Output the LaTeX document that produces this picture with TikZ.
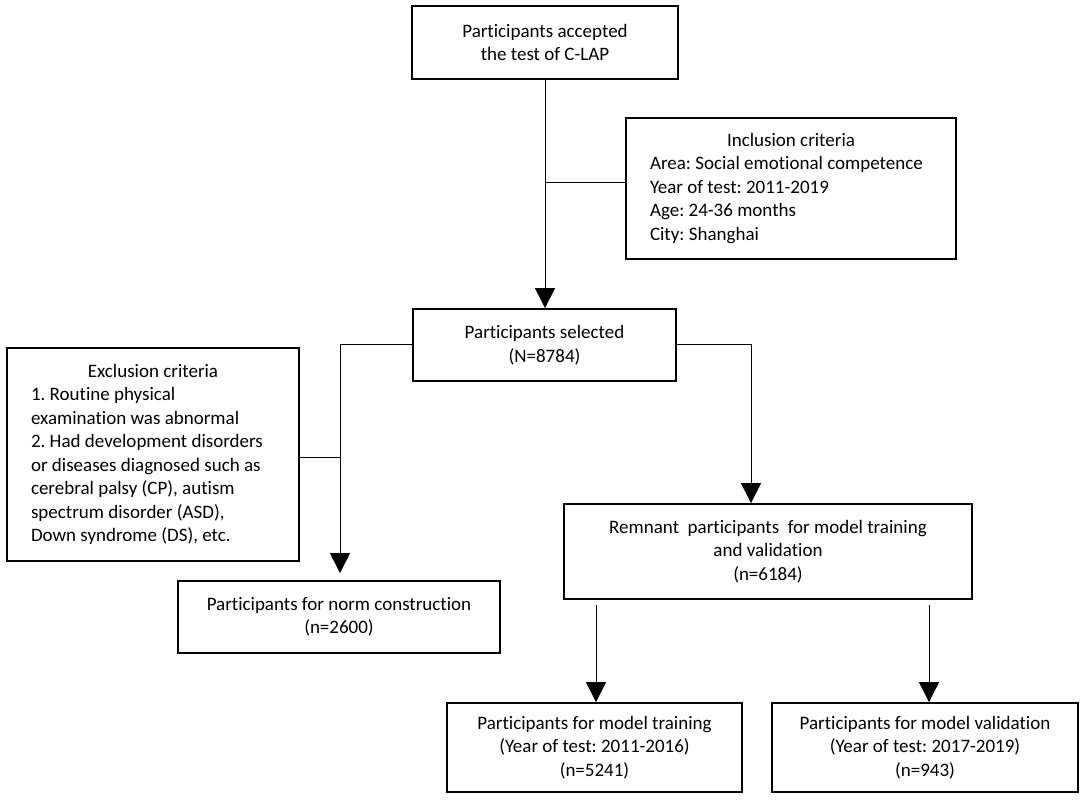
\documentclass[tikz,border=0pt]{standalone}
\usepackage{fontspec}
\setmainfont{Carlito}[Ligatures=NoCommon]
\usetikzlibrary{arrows.meta}
\newcommand\myfs{\fontsize{19}{23.5}\selectfont\frenchspacing}
\begin{document}
\begin{tikzpicture}[x=1pt,y=-1pt,
  box/.style={draw, line width=1.8pt, align=center, inner sep=0pt, font=\myfs},
  ln/.style={line width=1pt},
  arr/.style={ln, -{Triangle[width=20pt,length=20pt]}}]
\useasboundingbox[fill=white] (0,0) rectangle (1084,806);
\node[box, minimum width=266pt, minimum height=73pt] (b1) at (545,42.5) {Participants accepted\\the test of C-LAP};
\node[box, inner xsep=24pt, minimum height=141pt, align=left] (incl) at (791,188.5)
  {\makebox[282pt][c]{Inclusion criteria}\\Area: Social emotional competence\\Year of test: 2011-2019\\Age: 24-36 months\\City: Shanghai};
\node[box, minimum width=263pt, minimum height=72pt] (sel) at (544.5,345) {Participants selected\\(N=8784)};
\node[box, inner xsep=24pt, minimum height=213pt, align=left] (excl) at (153,454.5)
  {\makebox[244pt][c]{Exclusion criteria}\\1. Routine physical\\examination was abnormal\\2. Had development disorders\\or diseases diagnosed such as\\cerebral palsy (CP), autism\\spectrum disorder (ASD),\\Down syndrome (DS), etc.};
\node[box, minimum width=322pt, minimum height=72pt] (norm) at (339,617) {Participants for norm construction\\(n=2600)};
\node[box, minimum width=408pt, minimum height=95pt] (rem) at (768,551.5) {Remnant\ \ participants\ \ for model training\\and validation\\(n=6184)};
\node[box, minimum width=295pt, minimum height=89pt] (train) at (594.5,747.5) {Participants for model training\\(Year of test: 2011-2016)\\(n=5241)};
\node[box, minimum width=306pt, minimum height=89pt] (valid) at (925,747.5) {Participants for model validation\\(Year of test: 2017-2019)\\(n=943)};
\coordinate (c1) at (545,182);
\coordinate (c2) at (340,344);
\coordinate (c3) at (751,344);
\coordinate (c4) at (596,0);
\coordinate (c5) at (929,0);
\draw[arr] (b1.south) -- (b1.south |- sel.north);
\draw[ln] (c1) -- (c1 -| incl.west);
\draw[arr, shorten >=7pt] (sel.west |- c2) -- (c2) -- (c2 |- norm.north);
\draw[ln] (excl.east |- 0,457) -- (c2 |- 0,457);
\draw[arr] (sel.east |- c3) -- (c3) -- (c3 |- rem.north);
\draw[arr, shorten <=5pt] (rem.south -| c4) -- (train.north -| c4);
\draw[arr, shorten <=5pt] (rem.south -| c5) -- (valid.north -| c5);
\end{tikzpicture}
\end{document}
